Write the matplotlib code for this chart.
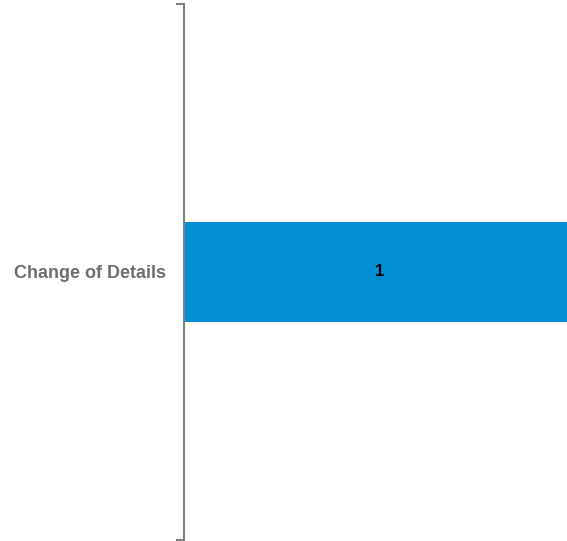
import matplotlib.pyplot as plt

categories = ["Change of Details"]
values = [1]

plt.rcParams['font.family'] = ['Liberation Sans', 'DejaVu Sans']

fig = plt.figure(figsize=(5.67, 5.41), dpi=100)
ax = fig.add_axes([184 / 567, 1 / 541, 1 - 184 / 567, 536 / 541])

pos = list(range(len(categories)))
bars = ax.barh(pos, values, height=0.185, color='#008fd5')

for b, v in zip(bars, values):
    ax.text(b.get_width() / 2 + 0.012, b.get_y() + b.get_height() / 2, str(v),
            ha='center', va='center', fontsize=12, fontweight='bold', color='black')

ax.set_xlim(0, max(values))
ax.set_ylim(len(categories) - 0.5, -0.5)

# category boundary ticks, labels on minor ticks at the centre
ax.set_yticks([p - 0.5 for p in pos] + [pos[-1] + 0.5])
ax.set_yticklabels([])
ax.set_yticks(pos, minor=True)
ax.set_yticklabels(categories, minor=True, fontsize=13, fontweight='bold', color='#6e6e6e')
ax.tick_params(axis='y', which='major', length=6, width=1.5, color='#808080')
ax.tick_params(axis='y', which='minor', length=0, pad=13)

ax.set_xticks([])
for s in ['top', 'right', 'bottom']:
    ax.spines[s].set_visible(False)
ax.spines['left'].set_color('#808080')
ax.spines['left'].set_linewidth(1.5)

fig.savefig('out.png', dpi=100)
